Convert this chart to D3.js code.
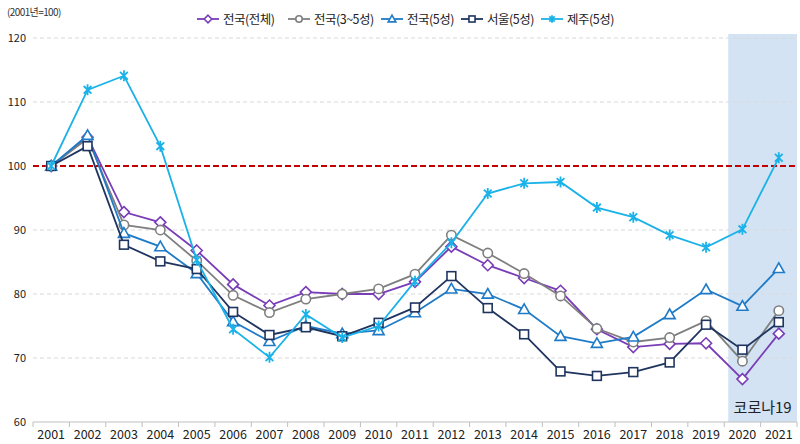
<!DOCTYPE html>
<html>
<head>
<meta charset="utf-8">
<script src="https://cdn.jsdelivr.net/npm/d3@7"></script>
<style>
  body { margin: 0; background: #fff; }
  svg { display: block; font-family: "Noto Sans CJK KR", "Noto Sans", sans-serif; }
  .tick-label { font-size: 12px; fill: #222; }
  .legend-label { font-size: 12.5px; fill: #222; }
</style>
</head>
<body>
<svg id="chart" width="800" height="444"></svg>
<script>
// ---- data ----
const years = ['2001','2002','2003','2004','2005','2006','2007','2008','2009','2010','2011',
               '2012','2013','2014','2015','2016','2017','2018','2019','2020','2021'];
const yTicks = [60, 70, 80, 90, 100, 110, 120];
const covidYears = ['2020', '2021'];

const allKorea = [100, 104.5, 92.8, 91.2, 86.8, 81.5, 78.2, 80.3, 80.0, 80.0, 81.9,
                  87.4, 84.5, 82.5, 80.5, 74.5, 71.7, 72.2, 72.3, 66.7, 73.8];
const korea3to5 = [100, 104.3, 90.8, 90.0, 85.2, 79.8, 77.1, 79.2, 80.0, 80.8, 83.1,
                   89.2, 86.4, 83.2, 79.7, 74.6, 72.5, 73.2, 75.8, 69.5, 77.4];
const korea5 = [100, 104.8, 89.5, 87.4, 83.2, 75.7, 72.6, 75.0, 73.8, 74.3, 77.1,
                80.8, 80.0, 77.6, 73.4, 72.3, 73.3, 76.8, 80.7, 78.1, 84.0];
const seoul5 = [100, 103.1, 87.7, 85.1, 83.9, 77.2, 73.6, 74.8, 73.4, 75.5, 77.9,
                82.8, 77.8, 73.7, 67.9, 67.2, 67.8, 69.3, 75.2, 71.3, 75.6];
const jeju5 = [100, 111.9, 114.1, 103.1, 85.3, 74.5, 70.1, 76.8, 73.2, 75.0, 82.0,
               88.0, 95.7, 97.3, 97.5, 93.5, 92.0, 89.2, 87.3, 90.1, 101.3];

const series = [
    { name: '전국(전체)', values: allKorea, color: '#7a3db8', marker: 'diamond' },
    { name: '전국(3~5성)', values: korea3to5, color: '#7f7f7f', marker: 'circle' },
    { name: '전국(5성)', values: korea5, color: '#1f7bc7', marker: 'triangle' },
    { name: '서울(5성)', values: seoul5, color: '#1f3560', marker: 'square' },
    { name: '제주(5성)', values: jeju5, color: '#1ab2e8', marker: 'star' }
];

// ---- layout ----
const svg = d3.select('#chart');
const plotLeft = 33, plotRight = 797, plotTop = 38, plotBottom = 422;

const x = d3.scaleBand().domain(years).range([plotLeft, plotRight]);
const y = d3.scaleLinear().domain([60, 120]).range([plotBottom, plotTop]);
const cx = d => x(d) + x.bandwidth() / 2;

// covid shading
svg.append('rect')
    .attr('x', x(covidYears[0]) + 4)
    .attr('y', plotTop - 4)
    .attr('width', x(covidYears[1]) + x.bandwidth() - x(covidYears[0]) - 4)
    .attr('height', plotBottom - plotTop + 4)
    .attr('fill', '#d3e3f3');

// grid
svg.append('g').selectAll('line')
    .data(yTicks.filter(t => t !== 60 && t !== 100))
    .join('line')
    .attr('x1', plotLeft).attr('x2', plotRight)
    .attr('y1', d => y(d)).attr('y2', d => y(d))
    .attr('stroke', '#d9d9d9')
    .attr('stroke-width', 1)
    .attr('stroke-dasharray', '4,3');

// y labels
svg.append('g').selectAll('text')
    .data(yTicks)
    .join('text')
    .attr('class', 'tick-label')
    .attr('x', 26)
    .attr('y', d => y(d) + 4)
    .attr('text-anchor', 'end')
    .style('font-size', '11px')
    .text(d => d);

svg.append('text')
    .attr('x', 7).attr('y', 16)
    .style('font-size', '10px')
    .style('letter-spacing', '-0.6px')
    .attr('fill', '#333')
    .text('(2001년=100)');

// x axis
const xAxis = svg.append('g').attr('transform', `translate(0,${plotBottom})`);
xAxis.append('line')
    .attr('x1', plotLeft).attr('x2', plotRight)
    .attr('stroke', '#bfbfbf');
xAxis.selectAll('line.tk')
    .data(years.concat(['end']))
    .join('line')
    .attr('class', 'tk')
    .attr('x1', (d, i) => plotLeft + i * x.bandwidth())
    .attr('x2', (d, i) => plotLeft + i * x.bandwidth())
    .attr('y1', 0).attr('y2', 5)
    .attr('stroke', '#bfbfbf');
xAxis.selectAll('text')
    .data(years)
    .join('text')
    .attr('class', 'tick-label')
    .attr('x', d => cx(d))
    .attr('y', 17)
    .attr('text-anchor', 'middle')
    .style('font-size', '12.5px')
    .text(d => d);

// 100 reference line
svg.append('line')
    .attr('x1', plotLeft).attr('x2', plotRight)
    .attr('y1', y(100)).attr('y2', y(100))
    .attr('stroke', '#c00000')
    .attr('stroke-width', 1.8)
    .attr('stroke-dasharray', '6,3');

// marker drawing
function drawMarker(g, type, color, size) {
    const s = size;
    if (type === 'diamond') {
        g.append('path').attr('d', `M0,${-s} L${s},0 L0,${s} L${-s},0 Z`)
            .attr('fill', '#fff').attr('stroke', color).attr('stroke-width', 1.6);
    } else if (type === 'circle') {
        g.append('circle').attr('r', s * 0.85)
            .attr('fill', '#fff').attr('stroke', color).attr('stroke-width', 1.6);
    } else if (type === 'triangle') {
        g.append('path').attr('d', `M0,${-s} L${s},${s * 0.75} L${-s},${s * 0.75} Z`)
            .attr('fill', '#fff').attr('stroke', color).attr('stroke-width', 1.6);
    } else if (type === 'square') {
        g.append('rect').attr('x', -s * 0.8).attr('y', -s * 0.8)
            .attr('width', s * 1.6).attr('height', s * 1.6)
            .attr('fill', '#fff').attr('stroke', color).attr('stroke-width', 1.6);
    } else if (type === 'star') {
        const a = s * 0.7;
        g.append('path')
            .attr('d', `M${-a},${-a} L${a},${a} M${-a},${a} L${a},${-a} M0,${-s} L0,${s}`)
            .attr('stroke', color).attr('stroke-width', 1.8).attr('fill', 'none');
    }
}

const line = d3.line().x((d, i) => cx(years[i])).y(d => y(d));

series.forEach(sr => {
    const g = svg.append('g');
    g.append('path')
        .datum(sr.values)
        .attr('d', line)
        .attr('fill', 'none')
        .attr('stroke', sr.color)
        .attr('stroke-width', 1.8);
    sr.values.forEach((v, i) => {
        const m = g.append('g').attr('transform', `translate(${cx(years[i])},${y(v)})`);
        drawMarker(m, sr.marker, sr.color, 5.5);
    });
});

// legend
const legendX = [197, 288, 381, 461, 541];
const legend = svg.append('g');
series.forEach((sr, i) => {
    const g = legend.append('g').attr('transform', `translate(${legendX[i]},19)`);
    g.append('line').attr('x1', 0).attr('x2', 22).attr('stroke', sr.color).attr('stroke-width', 1.8);
    const m = g.append('g').attr('transform', 'translate(11,0)');
    drawMarker(m, sr.marker, sr.color, 3.8);
    g.append('text')
        .attr('class', 'legend-label')
        .attr('x', 26).attr('y', 4.5)
        .style('letter-spacing', '-0.5px')
        .text(sr.name);
});

// covid label
svg.append('text')
    .attr('x', (x(covidYears[0]) + x(covidYears[1]) + x.bandwidth() + 4) / 2)
    .attr('y', 413)
    .attr('text-anchor', 'middle')
    .style('font-size', '15px')
    .attr('fill', '#222')
    .text('코로나19');
</script>
</body>
</html>
